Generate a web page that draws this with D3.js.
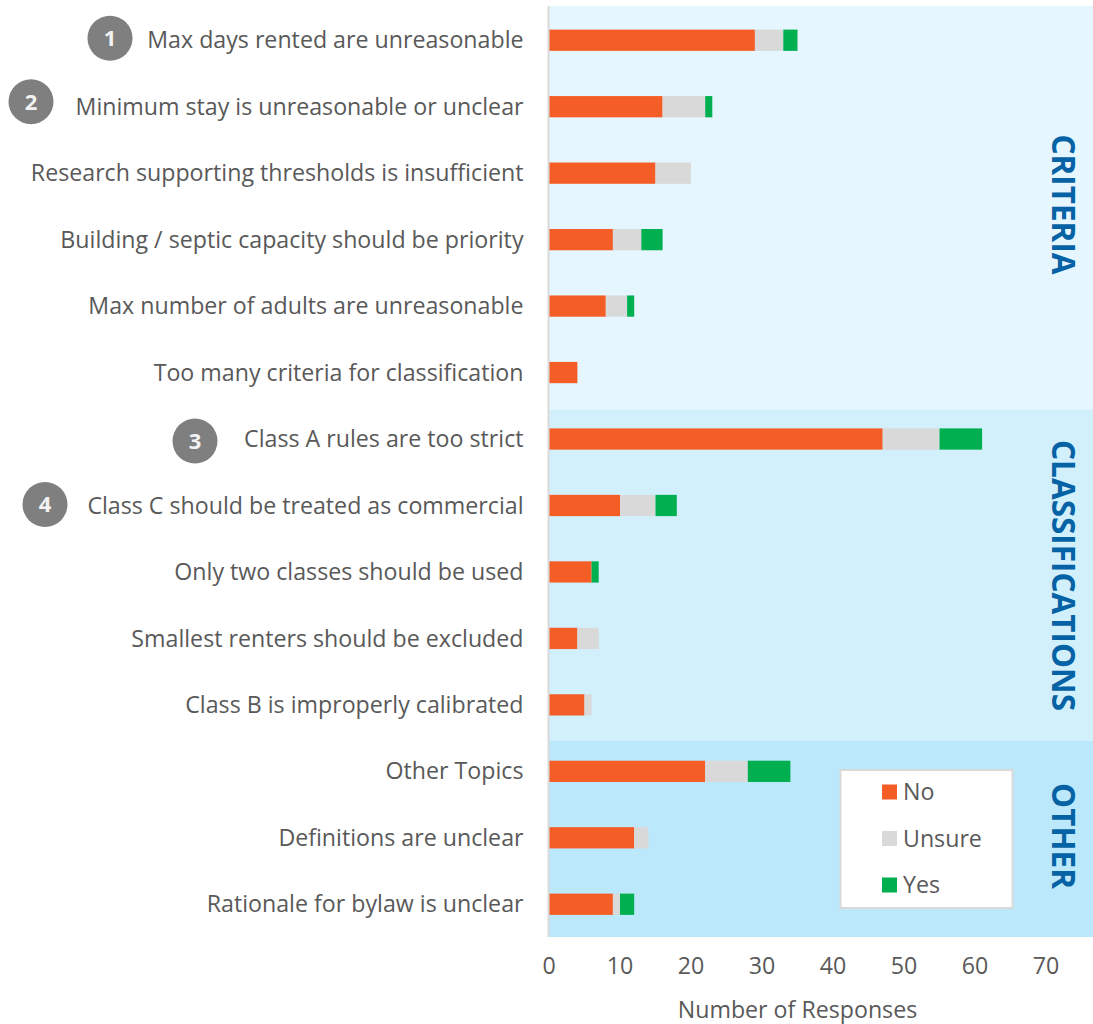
<!DOCTYPE html>
<html>
<head>
<meta charset="utf-8">
<script src="https://cdn.jsdelivr.net/npm/d3@7/dist/d3.min.js"></script>
<style>
html,body{margin:0;padding:0;background:#fff}
svg{display:block}
text{font-family:"Open Sans",sans-serif}
</style>
</head>
<body>
<svg id="chart" width="1093" height="1024"></svg>
<script>
// Survey responses by topic
const topics = [
  "Max days rented are unreasonable",
  "Minimum stay is unreasonable or unclear",
  "Research supporting thresholds is insufficient",
  "Building / septic capacity should be priority",
  "Max number of adults are unreasonable",
  "Too many criteria for classification",
  "Class A rules are too strict",
  "Class C should be treated as commercial",
  "Only two classes should be used",
  "Smallest renters should be excluded",
  "Class B is improperly calibrated",
  "Other Topics",
  "Definitions are unclear",
  "Rationale for bylaw is unclear"
];
const noValues     = [29,16,15,9,8,4,47,10,6,4,5,22,12,9];
const unsureValues = [4,6,5,4,3,0,8,5,0,3,1,6,2,1];
const yesValues    = [2,1,0,3,1,0,6,3,1,0,0,6,0,2];
const seriesNames  = ["No","Unsure","Yes"];
const seriesColors = ["#f55d27","#d9d9d9","#00b050"];
const xTicks = [0,10,20,30,40,50,60,70];

// Section shading bands
const sectionNames  = ["CRITERIA","CLASSIFICATIONS","OTHER"];
const sectionColors = ["#e6f6fe","#d2f0fc","#bbe9fb"];
const sectionTops   = [6,410,741];
const sectionBottoms= [410,741,937];

// Numbered callouts keyed to topic index
const calloutNumbers = ["1","2","3","4"];
const calloutTopics  = [0,1,6,7];
const calloutX       = [110,31,195,45];
const calloutDy      = [-2,-5,2,-1];

const svg = d3.select("#chart");
const textColor = "#595959";
const labelSize = 23.2;

const x = d3.scaleLinear().domain([0,70]).range([549,1046]);
const y = d3.scaleBand().domain(topics).range([7,937.5]).paddingInner(0.68).paddingOuter(0.34);
const plotRight = 1093;

// Section backgrounds
svg.append("g").selectAll("rect").data(sectionNames).join("rect")
  .attr("x", x(0)).attr("width", plotRight - x(0))
  .attr("y", (d,i)=>sectionTops[i])
  .attr("height", (d,i)=>sectionBottoms[i]-sectionTops[i])
  .attr("fill", (d,i)=>sectionColors[i]);

// Stacked bars
const rows = topics.map((t,i)=>({topic:t, No:noValues[i], Unsure:unsureValues[i], Yes:yesValues[i]}));
const stacked = d3.stack().keys(seriesNames)(rows);
svg.append("g").selectAll("g").data(stacked).join("g")
  .attr("fill",(d,i)=>seriesColors[i])
  .selectAll("rect").data(d=>d).join("rect")
  .attr("x",d=>x(d[0]))
  .attr("width",d=>x(d[1])-x(d[0]))
  .attr("y",d=>y(d.data.topic))
  .attr("height",y.bandwidth());

// Value axis with its baseline on the category side
const xAxis = d3.axisBottom(x).tickValues(xTicks).tickSize(0).tickPadding(0);
const xg = svg.append("g").attr("transform","translate(0,958)").call(xAxis);
xg.select(".domain").remove();
xg.selectAll("text").attr("font-size",labelSize).attr("fill",textColor).attr("dy","0.71em")
  .attr("dx",-0.5).style("font-family",'"Open Sans",sans-serif');

svg.append("line").attr("x1",548.5).attr("x2",548.5).attr("y1",6).attr("y2",937)
  .attr("stroke","#d9d9d9").attr("stroke-width",2);

svg.append("text").attr("x",797.5).attr("y",1018).attr("text-anchor","middle")
  .attr("font-size",labelSize).attr("fill",textColor).text("Number of Responses");

// Topic labels
svg.append("g").selectAll("text").data(topics).join("text")
  .attr("x",523.5).attr("y",d=>y(d)+y.bandwidth()/2).attr("dy","0.35em")
  .attr("text-anchor","end").attr("font-size",labelSize).attr("fill",textColor).text(d=>d);

// Callout badges
const badges = svg.append("g").selectAll("g").data(calloutNumbers).join("g")
  .attr("transform",(d,i)=>`translate(${calloutX[i]},${y(topics[calloutTopics[i]])+y.bandwidth()/2+calloutDy[i]})`);
badges.append("circle").attr("r",22.5).attr("fill","#7f7f7f");
badges.append("text").attr("text-anchor","middle").attr("dy","0.36em")
  .attr("font-size",22).attr("font-weight",700).attr("fill","#f2f2f2").text(d=>d);

// Rotated section titles
const titleCenters=[204.5,575.5,836];
svg.append("g").selectAll("text").data(sectionNames).join("text")
  .attr("transform",(d,i)=>`translate(1063,${titleCenters[i]}) rotate(90)`)
  .attr("text-anchor","middle").attr("dy","0.36em")
  .attr("font-size",31.5).attr("font-weight",700).attr("fill","#0563a5").text(d=>d);

// Legend
const legend = svg.append("g");
legend.append("rect").attr("x",840.5).attr("y",770).attr("width",172).attr("height",138)
  .attr("fill","#fff").attr("stroke","#d9d9d9").attr("stroke-width",2);
const legendYs=[792,838.5,885];
const li = legend.selectAll("g").data(seriesNames).join("g")
  .attr("transform",(d,i)=>`translate(882,${legendYs[i]})`);
li.append("rect").attr("y",-7.5).attr("width",15).attr("height",15).attr("fill",(d,i)=>seriesColors[i]);
li.append("text").attr("x",21).attr("dy","0.35em").attr("font-size",labelSize).attr("fill",textColor).text(d=>d);
</script>
</body>
</html>
